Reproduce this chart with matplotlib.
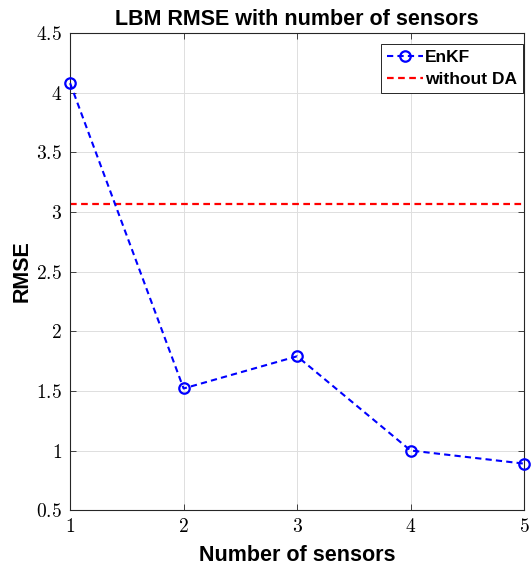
import numpy as np
import matplotlib
matplotlib.use('Agg')
import matplotlib.pyplot as plt
from matplotlib.ticker import FuncFormatter

# 数据
sensors = [1, 2, 3, 4, 5]
rmse_enkf = [4.08, 1.52, 1.79, 1.00, 0.89]
rmse_no_da = 3.07
xticks = [1, 2, 3, 4, 5]
yticks = [0.5, 1, 1.5, 2, 2.5, 3, 3.5, 4, 4.5]

plt.rcParams['mathtext.fontset'] = 'cm'
plt.rcParams['font.family'] = ['Liberation Sans', 'DejaVu Sans']

fig = plt.figure(figsize=(5.31, 5.70), dpi=100)
ax = fig.add_axes([0.132, 0.105, 0.855, 0.837])

ax.plot(sensors, rmse_enkf, color='blue', linestyle=(0, (3, 2)), linewidth=1.5,
        marker='o', markersize=7.5, markerfacecolor='none', markeredgewidth=1.6,
        label='EnKF', clip_on=False, zorder=3)
ax.axhline(rmse_no_da, color='red', linestyle=(0, (3, 2)), linewidth=1.6, label='without DA')

ax.set_xlim(1, 5)
ax.set_ylim(0.5, 4.5)
ax.set_xticks(xticks)
ax.set_yticks(yticks)
fmt = FuncFormatter(lambda v, p: '$%g$' % v)
ax.xaxis.set_major_formatter(fmt)
ax.yaxis.set_major_formatter(fmt)
ax.tick_params(direction='in', top=True, right=True, labelsize=14, color='0.15',
               length=4, width=0.6, pad=6)
ax.grid(True, color='0.87', linewidth=0.7)
ax.set_axisbelow(True)
for s in ax.spines.values():
    s.set_color('0.15')
    s.set_linewidth(0.8)

ax.set_title('LBM RMSE with number of sensors', fontsize=15.5, fontweight='bold', pad=6)
ax.set_xlabel('Number of sensors', fontsize=15.5, fontweight='bold', labelpad=6)
ax.set_ylabel('RMSE', fontsize=15.5, fontweight='bold', labelpad=2)

# 图例
leg = ax.legend(loc='upper right', bbox_to_anchor=(0.998, 0.977),
                prop={'weight': 'bold', 'size': 12.5},
                fancybox=False, framealpha=1, edgecolor='0.15',
                handlelength=2.1, handletextpad=0.1, borderpad=0.35,
                labelspacing=0.4, borderaxespad=0)
leg.get_frame().set_linewidth(0.7)

fig.savefig('out.png', dpi=100)
